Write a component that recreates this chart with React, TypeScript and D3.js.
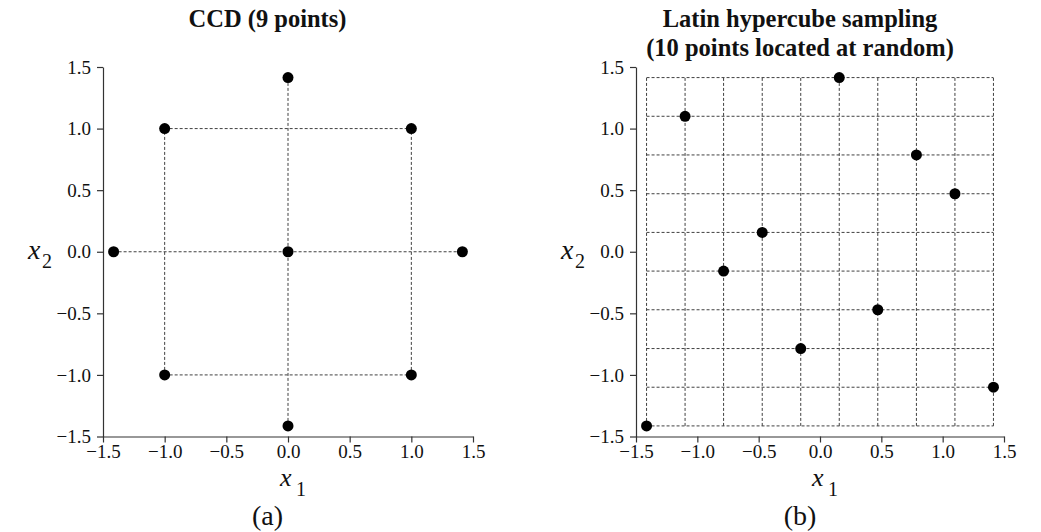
import React, { useEffect, useRef } from 'react';
import * as d3 from 'd3';

// axis ticks shared by both panels
const tickValues = [-1.5, -1.0, -0.5, 0.0, 0.5, 1.0, 1.5];

// (a) central composite design, 9 points
const ccdX1 = [0, -1, 1, -1.414, 0, 1.414, -1, 1, 0];
const ccdX2 = [1.414, 1, 1, 0, 0, 0, -1, -1, -1.414];

// (b) latin hypercube, 10 levels per variable
const lhsLevels = [-1.414, -1.1, -0.786, -0.471, -0.157, 0.157, 0.471, 0.786, 1.1, 1.414];
const lhsX1 = [-1.414, -1.1, -0.786, -0.471, -0.157, 0.157, 0.471, 0.786, 1.1, 1.414];
const lhsX2 = [-1.414, 1.1, -0.157, 0.157, -0.786, 1.414, -0.471, 0.786, 0.471, -1.1];

const W = 1041;
const H = 532;
const SERIF = '"Liberation Serif", "Times New Roman", "DejaVu Serif", serif';
const DASH = '3,2';
const LINE_COLOR = '#404040';

function App() {
  const ref = useRef(null);

  useEffect(() => {
    const svg = d3.select(ref.current);
    svg.selectAll('*').remove();

    const drawPanel = (left, right, title, tag, tagX, drawGuides, xs, ys) => {
      const x = d3.scaleLinear().domain([-1.5, 1.5]).range([left, right]);
      const y = d3.scaleLinear().domain([-1.5, 1.5]).range([436.5, 67]);
      const g = svg.append('g');

      /* ------- DASHED GUIDES -------*/
      drawGuides(g.append('g'), x, y);

      /* ------- AXES -------*/
      const fmt = d3.format('.1f');
      const ax = g
        .append('g')
        .attr('transform', `translate(0,${y(-1.5)})`)
        .call(
          d3.axisBottom(x).tickValues(tickValues).tickFormat(fmt).tickSize(6).tickSizeOuter(0).tickPadding(2)
        );
      const ay = g
        .append('g')
        .attr('transform', `translate(${x(-1.5)},0)`)
        .call(
          d3.axisLeft(y).tickValues(tickValues).tickFormat(fmt).tickSize(6).tickSizeOuter(0).tickPadding(6)
        );
      [ax, ay].forEach(a => {
        a.attr('font-size', 19).attr('font-family', SERIF);
        a.select('.domain').attr('stroke', '#333').attr('stroke-width', 1.2);
        a.selectAll('.tick line').attr('stroke', '#333').attr('stroke-width', 1.2);
        a.selectAll('.tick text').attr('fill', '#111');
      });

      /* ------- POINTS -------*/
      g.append('g')
        .selectAll('circle')
        .data(xs.map((v, i) => [v, ys[i]]))
        .enter()
        .append('circle')
        .attr('cx', d => x(d[0]))
        .attr('cy', d => y(d[1]))
        .attr('r', 5.5)
        .attr('fill', '#000');

      /* ------- LABELS -------*/
      const x1 = g.append('text').attr('font-family', SERIF).attr('fill', '#111');
      x1.append('tspan')
        .attr('x', x(0) - 8)
        .attr('y', 486)
        .attr('font-size', 26)
        .attr('font-style', 'italic')
        .text('x');
      x1.append('tspan')
        .attr('x', x(0) + 8)
        .attr('y', 496)
        .attr('font-size', 20)
        .text('1');

      const x2 = g.append('text').attr('font-family', SERIF).attr('fill', '#111');
      x2.append('tspan')
        .attr('x', x(-1.5) - 75)
        .attr('y', y(0) + 7)
        .attr('font-size', 28)
        .attr('font-style', 'italic')
        .text('x');
      x2.append('tspan')
        .attr('x', x(-1.5) - 61)
        .attr('y', y(0) + 16.5)
        .attr('font-size', 20)
        .text('2');

      const t = g
        .append('text')
        .attr('text-anchor', 'middle')
        .attr('font-family', SERIF)
        .attr('font-weight', 'bold')
        .attr('font-size', 24.5)
        .attr('fill', '#111');
      title.forEach((line, i) => {
        t.append('tspan')
          .attr('x', tagX)
          .attr('y', 27 + i * 29)
          .text(line);
      });

      g.append('text')
        .attr('x', tagX)
        .attr('y', 525)
        .attr('text-anchor', 'middle')
        .attr('font-family', SERIF)
        .attr('font-size', 28)
        .attr('fill', '#111')
        .text(tag);
    };

    // CCD: join points sharing a coordinate
    const ccdGuides = (g, x, y) => {
      const pts = ccdX1.map((v, i) => [v, ccdX2[i]]);
      const segs = [];
      d3.groups(pts, d => d[0]).forEach(([k, arr]) => {
        if (arr.length > 1) {
          const ext = d3.extent(arr, d => d[1]);
          segs.push([[k, ext[0]], [k, ext[1]]]);
        }
      });
      d3.groups(pts, d => d[1]).forEach(([k, arr]) => {
        if (arr.length > 1) {
          const ext = d3.extent(arr, d => d[0]);
          segs.push([[ext[0], k], [ext[1], k]]);
        }
      });
      g.selectAll('line')
        .data(segs)
        .enter()
        .append('line')
        .attr('x1', d => x(d[0][0]))
        .attr('y1', d => y(d[0][1]))
        .attr('x2', d => x(d[1][0]))
        .attr('y2', d => y(d[1][1]))
        .attr('stroke', LINE_COLOR)
        .attr('stroke-width', 1)
        .attr('stroke-dasharray', DASH);
    };

    // LHS: full grid of levels
    const lhsGuides = (g, x, y) => {
      const lo = lhsLevels[0];
      const hi = lhsLevels[lhsLevels.length - 1];
      g.selectAll('line.v')
        .data(lhsLevels)
        .enter()
        .append('line')
        .attr('class', 'v')
        .attr('x1', d => x(d))
        .attr('x2', d => x(d))
        .attr('y1', y(lo))
        .attr('y2', y(hi));
      g.selectAll('line.h')
        .data(lhsLevels)
        .enter()
        .append('line')
        .attr('class', 'h')
        .attr('y1', d => y(d))
        .attr('y2', d => y(d))
        .attr('x1', x(lo))
        .attr('x2', x(hi));
      g.selectAll('line')
        .attr('stroke', LINE_COLOR)
        .attr('stroke-width', 1)
        .attr('stroke-dasharray', DASH);
    };

    drawPanel(103, 473, ['CCD (9 points)'], '(a)', 267.5, ccdGuides, ccdX1, ccdX2);
    drawPanel(
      636,
      1004,
      ['Latin hypercube sampling', '(10 points located at random)'],
      '(b)',
      800,
      lhsGuides,
      lhsX1,
      lhsX2
    );
  }, []);

  return (
    <svg
      ref={ref}
      width={W}
      height={H}
      style={{ position: 'absolute', left: 0, top: 0, background: '#fff' }}
    />
  );
}

export default App;
